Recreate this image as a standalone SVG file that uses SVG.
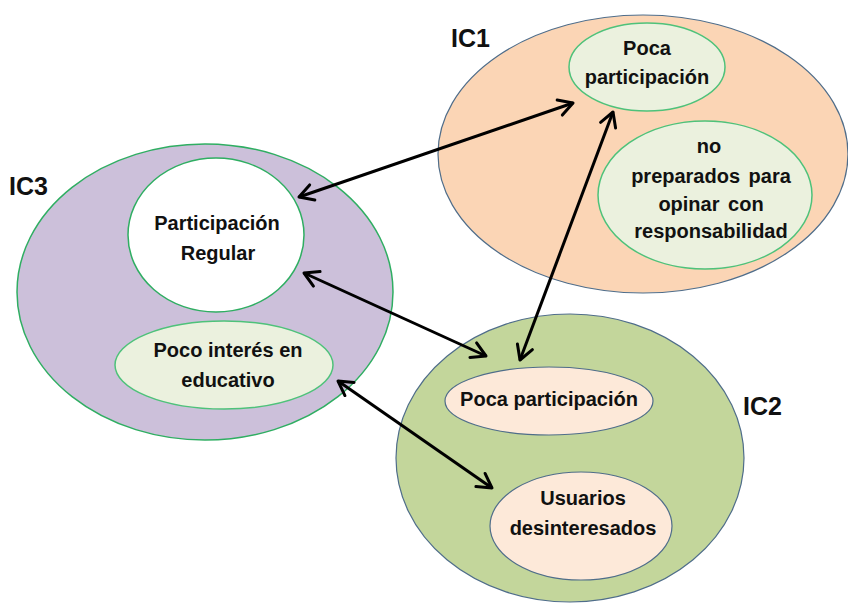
<svg xmlns="http://www.w3.org/2000/svg" width="848" height="603" viewBox="0 0 848 603">
<defs>
<style>
.t{font-family:"Liberation Sans",Arial,sans-serif;font-weight:bold;font-size:20px;fill:#111;text-anchor:middle}
.lbl{font-family:"Liberation Sans",Arial,sans-serif;font-weight:bold;font-size:25px;fill:#111}
.inG{fill:#ebf1de;stroke:#4ec27a;stroke-width:1.5}
.inP{fill:#fde9d9;stroke:#4f6d8a;stroke-width:1.2}
.conn{stroke:#000;stroke-width:3;fill:none;marker-start:url(#ah);marker-end:url(#ah)}
</style>
<marker id="ah" viewBox="0 0 20 20" refX="17" refY="10" markerWidth="20" markerHeight="20" markerUnits="userSpaceOnUse" orient="auto-start-reverse">
<path d="M3,2 L17,10 L3,18" fill="none" stroke="#000" stroke-width="3" stroke-linecap="round" stroke-linejoin="round"/>
</marker>
</defs>
<rect width="848" height="603" fill="#fff"/>

<g id="IC1">
<ellipse cx="643" cy="154" rx="205" ry="139" fill="#fbd5b5" stroke="#4f6d8a" stroke-width="1.2"/>
<text class="lbl" x="451" y="47">IC1</text>
</g>
<g id="IC1-poca">
<ellipse class="inG" cx="647" cy="67" rx="78" ry="44"/>
<text class="t" x="647" y="55">Poca</text>
<text class="t" x="647" y="84">participación</text>
</g>
<g id="IC1-noprep">
<ellipse class="inG" cx="705" cy="195" rx="107" ry="74"/>
<text class="t" x="709" y="153">no</text>
<text class="t" x="711" y="183" word-spacing="3">preparados para</text>
<text class="t" x="711" y="211" word-spacing="3">opinar con</text>
<text class="t" x="711" y="238">responsabilidad</text>
</g>

<g id="IC3">
<ellipse cx="205" cy="292" rx="188" ry="148" fill="#ccc0da" stroke="#2fae62" stroke-width="1.5"/>
<text class="lbl" x="9" y="195">IC3</text>
</g>
<g id="IC3-regular">
<ellipse cx="216" cy="235" rx="88" ry="77" fill="#fff" stroke="#2fae62" stroke-width="1.5"/>
<text class="t" x="217" y="230">Participación</text>
<text class="t" x="218" y="260">Regular</text>
</g>
<g id="IC3-interes">
<ellipse class="inG" cx="224" cy="365" rx="109" ry="44"/>
<text class="t" x="228" y="357">Poco interés en</text>
<text class="t" x="228" y="387">educativo</text>
</g>

<g id="IC2">
<ellipse cx="570" cy="458" rx="174" ry="144" fill="#c3d69b" stroke="#4f6d8a" stroke-width="1.2"/>
<text class="lbl" x="743" y="415">IC2</text>
</g>
<g id="IC2-poca">
<ellipse class="inP" cx="549" cy="401" rx="104" ry="34"/>
<text class="t" x="549" y="406">Poca participación</text>
</g>
<g id="IC2-usuarios">
<ellipse class="inP" cx="581" cy="526" rx="91" ry="54"/>
<text class="t" x="583" y="505">Usuarios</text>
<text class="t" x="583" y="535">desinteresados</text>
</g>

<g id="connectors">
<line class="conn" x1="299" y1="197" x2="573" y2="103"/>
<line class="conn" x1="304" y1="273" x2="486" y2="356"/>
<line class="conn" x1="613" y1="112" x2="520" y2="360"/>
<line class="conn" x1="338" y1="381" x2="492" y2="488"/>
</g>
</svg>
